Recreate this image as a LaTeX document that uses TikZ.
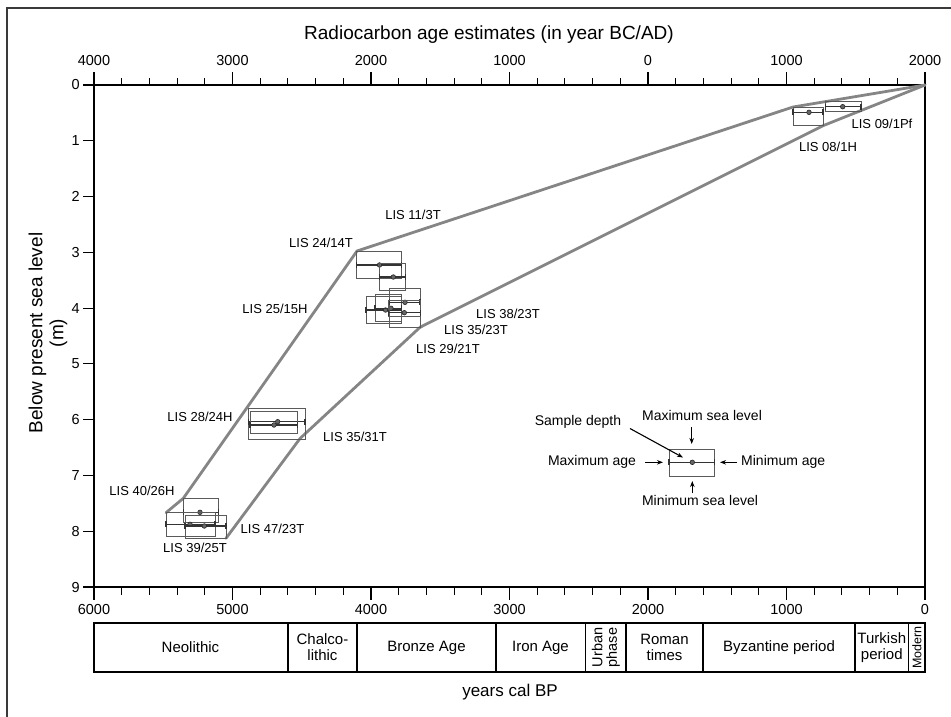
\documentclass[tikz,border=0pt]{standalone}
\usepackage{fontspec}
\setmainfont{Liberation Sans}
\usetikzlibrary{arrows.meta}
\newcommand{\fsz}[1]{\fontsize{#1}{#1}\selectfont}
\definecolor{envgray}{HTML}{858585}
\definecolor{boxgray}{HTML}{5A5A5A}
\definecolor{framegray}{HTML}{3A3A3A}
\tikzset{
  sbox/.style={draw=boxgray, line width=0.9pt},
  sline/.style={draw=black!80, line width=1.1pt},
  sdot/.style={fill=black!60, draw=black!85, line width=0.6pt},
  envline/.style={draw=envgray, line width=2.8pt, line join=round, line cap=round},
  axisline/.style={draw=black, line width=1.1pt},
  lislab/.style={font=\fsz{13}, inner sep=0pt},
  ticklab/.style={font=\fsz{14.5}, inner sep=0pt},
  perlab/.style={font=\fsz{15}, inner sep=0pt, align=center},
  leglab/.style={font=\fsz{14}, inner sep=0pt},
  legarrow/.style={draw=black, line width=1.1pt, -{Stealth[length=6pt,width=4.5pt]}},
}
\newcommand{\sample}[6]{%
  \draw[sbox] (#1,#2) rectangle (#3,#4);
  \draw[sline] (#1,#5) -- (#3,#5);
  \draw[sline] (#1,#5-3) -- (#1,#5+3);
  \draw[sline] (#3,#5-3) -- (#3,#5+3);
  \filldraw[sdot] (#6,#5) circle (2.3);
}
\begin{document}
\begin{tikzpicture}[x=1pt,y=-1pt]
\useasboundingbox (0,0) rectangle (951,716);
\clip (0,0) rectangle (951,716);
% outer frame
\draw[framegray, line width=1.6pt] (7,8) rectangle (970,740);

% title
\node[font=\fsz{19}, inner sep=0pt] (title) at (489,35) {Radiocarbon age estimates (in year BC/AD)};
\node[font=\fsz{19}, inner sep=0pt, align=center, rotate=90, text depth=0pt] (ylab) at (46,333) {Below present sea level\\[2pt](m)};
\node[font=\fsz{17}, inner sep=0pt] (xlab) at (510,692) {years cal BP};

% axes
\draw[axisline] (94,85) -- (925,85);
\draw[axisline] (94,587) -- (925,587);
\draw[axisline] (94,85) -- (94,587);
\draw[axisline] (925,85) -- (925,587);
% top and bottom ticks
\foreach \k in {0,...,30}{
  \pgfmathsetmacro{\xx}{94+\k*27.7}
  \pgfmathsetmacro{\tl}{ifthenelse(mod(\k,5)==0,13,7.5)}
  \draw[axisline] (\xx,85) -- (\xx,85-\tl);
  \draw[axisline] (\xx,587) -- (\xx,587+\tl);
}
% left ticks and labels
\foreach \m in {0,...,9}{
  \draw[axisline] (83,85+\m*55.78) -- (94,85+\m*55.78);
  \node[ticklab, anchor=east] (ly\m) at (80,85+\m*55.78) {\m};
}
% top labels
\foreach \t [count=\i from 0] in {4000,3000,2000,1000,0,1000,2000}{
  \node[ticklab] (tx\i) at (94+\i*138.5,61) {\t};
}
% bottom labels
\foreach \t [count=\i from 0] in {6000,5000,4000,3000,2000,1000,0}{
  \node[ticklab] (bx\i) at (94+\i*138.5,609) {\t};
}

% period timeline
\draw[axisline] (94,623) rectangle (925,672);
\foreach \xs in {288,357,496,585.5,626,703,855,908.5}{
  \draw[axisline] (\xs,623) -- (\xs,672);
}
\node[perlab] (p1) at (190.5,647.5) {Neolithic};
\node[perlab] (p2) at (322.5,647.5) {Chalco-\\[1pt]lithic};
\node[perlab] (p3) at (426.5,647.5) {Bronze Age};
\node[perlab] (p4) at (540.5,647.5) {Iron Age};
\node[perlab, rotate=90, font=\fsz{14.5}] (p5) at (605.8,647.5) {Urban\\[0pt]phase};
\node[perlab] (p6) at (664.5,647.5) {Roman\\[1pt]times};
\node[perlab] (p7) at (779,647.5) {Byzantine period};
\node[perlab] (p8) at (881.8,647.5) {Turkish\\[1pt]period};
\node[perlab, rotate=90, font=\fsz{12.5}] (p9) at (916.8,647.5) {Modern};

% envelope
\draw[envline] (925,85) -- (793,107) -- (357,251) -- (183.3,498.3) -- (166,512.7);
\draw[envline] (925,85) -- (823,125.7) -- (420,327.3) -- (300,438.5) -- (226,538.3);

% samples: x1,y1,x2,y2,line y,dot x
\sample{793}{107.7}{823}{125.7}{112.3}{809}
\sample{825.7}{101.7}{861}{111}{106.7}{842.7}
\sample{356.7}{251.7}{401.7}{278.3}{265}{379.5}
\sample{379.3}{263.3}{405.7}{290}{277}{393.3}
\sample{366}{296}{401.7}{323.3}{310}{385.6}
\sample{375}{294}{401.7}{321.7}{308.3}{391}
\sample{389.3}{288.3}{420}{327.3}{302.3}{405}
\sample{388.3}{300.7}{420.7}{316.7}{312.7}{404.3}
\sample{248.3}{408.3}{305}{439.3}{421.7}{277.7}
\sample{250}{411.7}{297.7}{433.3}{425}{274}
\sample{183.3}{498.3}{218.3}{522.7}{512.3}{200}
\sample{166}{512.7}{215}{536.7}{524.3}{190}
\sample{185}{515}{226}{538.3}{526}{204.3}

% sample labels
\node[lislab] (l1) at (882,123.5) {LIS 09/1Pf};
\node[lislab] (l2) at (828,147) {LIS 08/1H};
\node[lislab] (l3) at (413,215) {LIS 11/3T};
\node[lislab] (l4) at (321,243) {LIS 24/14T};
\node[lislab] (l5) at (275,309) {LIS 25/15H};
\node[lislab] (l6) at (508,313.5) {LIS 38/23T};
\node[lislab] (l7) at (476,329.5) {LIS 35/23T};
\node[lislab] (l8) at (448,348.5) {LIS 29/21T};
\node[lislab] (l9) at (200,417) {LIS 28/24H};
\node[lislab] (l10) at (355,437) {LIS 35/31T};
\node[lislab] (l11) at (142,490.5) {LIS 40/26H};
\node[lislab] (l12) at (272.5,528.5) {LIS 47/23T};
\node[lislab] (l13) at (195,548) {LIS 39/25T};

% legend
\sample{669}{449}{714.3}{476}{462.3}{692.3}
\coordinate (dotp) at (683,457.5);
\coordinate (maxslp) at (691.7,444);
\coordinate (minslp) at (692.3,481);
\coordinate (maxagep) at (663,462.3);
\coordinate (minagep) at (720,462.3);
\node[leglab] (sd) at (578,422) {Sample depth};
\node[leglab] (maxsl) at (702,415) {Maximum sea level};
\node[leglab] (minsl) at (700,500) {Minimum sea level};
\node[leglab] (maxage) at (592,462) {Maximum age};
\node[leglab, anchor=west] (minage) at (741,462) {Minimum age};
\draw[legarrow] (630,428.5) -- (dotp);
\draw[legarrow] (691.7,427) -- (maxslp);
\draw[legarrow] (692.3,493) -- (minslp);
\draw[legarrow] (645,462.3) -- (maxagep);
\draw[legarrow] (737,462.3) -- (minagep);
\end{tikzpicture}
\end{document}
